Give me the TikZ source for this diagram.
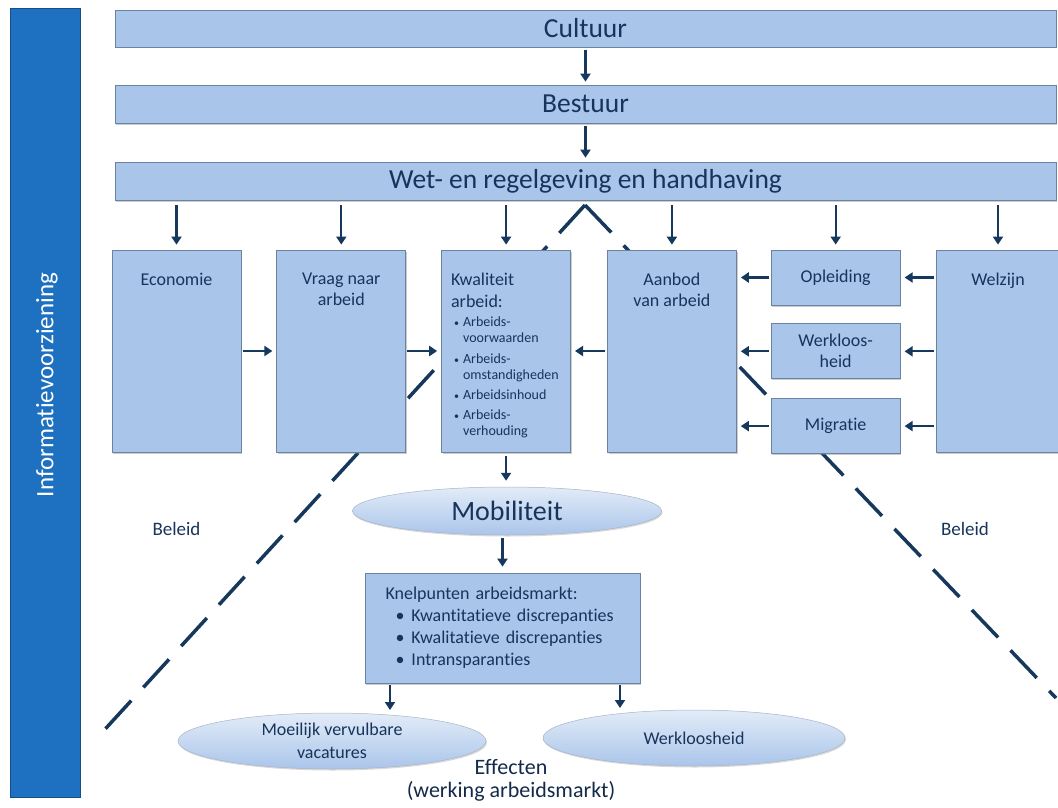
\documentclass[tikz,border=0pt]{standalone}
\usepackage{fontspec}
\setmainfont{Carlito}[Ligatures=NoCommon]
\usetikzlibrary{arrows.meta}
\usetikzlibrary{shapes.geometric,shadows}
\usetikzlibrary{positioning}

\definecolor{balkblauw}{RGB}{170,197,234}
\definecolor{randblauw}{RGB}{108,130,162}
\definecolor{infoblauw}{RGB}{30,113,192}
\definecolor{inkt}{RGB}{24,52,92}
\definecolor{pijlblauw}{RGB}{22,56,92}
\definecolor{wolklicht}{RGB}{226,236,248}

\newcommand{\stip}{\hspace*{3pt}\makebox[9pt][l]{\fontsize{10}{10}\selectfont\textbullet}}
\newcommand{\opsom}[2]{\stip#1\\\hspace*{12pt}#2}

\begin{document}
\begin{tikzpicture}[x=1pt,y=-1pt,
      balk/.style  = {draw=randblauw, fill=balkblauw, line width=0.8pt,
                      inner sep=0pt, text=inkt,
                      drop shadow={shadow xshift=1.2pt,shadow yshift=-1.5pt,opacity=0.4}},
      blok/.style  = {balk, minimum width=129pt, minimum height=202pt},
      kleinblok/.style = {balk, minimum width=129pt, minimum height=55pt,
                      align=center, font=\fontsize{18}{21}\selectfont},
      kop/.style   = {label={[anchor=north, yshift=-23pt, inner sep=0pt, align=center,
                      text=inkt, font=\fontsize{18}{21}\selectfont]north:#1}},
      wolk/.style  = {ellipse, draw=randblauw!60, line width=0.5pt, inner sep=0pt,
                      top color=wolklicht, bottom color=balkblauw, text=inkt,
                      drop shadow={shadow xshift=1pt,shadow yshift=-1.5pt,opacity=0.3}},
      pijl/.style  = {draw=pijlblauw, line width=2.2pt,
                      -{Triangle[length=8pt,width=10pt]}},
      grens/.style = {draw=pijlblauw, line width=3.5pt, dash pattern=on 38pt off 18pt}
   ]
   \useasboundingbox (0,0) rectangle (1058,808);

   % beleid / effecten grens
   \coordinate (top)  at (585,205);
   \coordinate (lo)   at (97,738);
   \coordinate (ro)   at (1056,698);
   \draw[grens] (top) -- (lo);
   \draw[grens] (top) -- (ro);

   % informatievoorziening
   \node[draw=infoblauw!70!black, fill=infoblauw, line width=0.8pt,
         minimum width=70pt, minimum height=789pt] (info) at (45,402.5) {};
   \node[rotate=90, text=white, font=\fontsize{25}{29}\selectfont]
         (infotekst) at (47,385) {Informatievoorziening};

   % bovenste lagen
   \node[balk, minimum width=941pt, minimum height=37pt,
         font=\fontsize{27.5}{31}\selectfont] (cult) at (585.5,28.5) {Cultuur};
   \node[balk, minimum width=941pt, minimum height=38pt,
         font=\fontsize{27.5}{31}\selectfont] (best) at (585.5,104) {Bestuur};
   \node[balk, minimum width=941pt, minimum height=38pt,
         font=\fontsize{27.5}{31}\selectfont] (wet)  at (585.5,181)
         {Wet- en regelgeving en handhaving};

   % blokken
   \node[blok, kop=Economie] (eco) at (176.5,351) {};
   \node[blok, kop={Vraag naar\\arbeid}, right=35pt of eco] (vraag) {};
   \node[blok, right=35pt of vraag, align=left, text width=110pt,
         font=\fontsize{14}{16}\selectfont] (kwal)
         {{\fontsize{18}{20}\selectfont\rule{0pt}{22pt}Kwaliteit}\\[6pt]
          {\fontsize{18}{20}\selectfont arbeid:}\\[3pt]
          \opsom{Arbeids-}{voorwaarden}\\[5pt]
          \opsom{Arbeids-}{omstandigheden}\\[4pt]
          \stip Arbeidsinhoud\\[4pt]
          \opsom{Arbeids-}{verhouding}};
   \node[blok, kop={Aanbod\\van arbeid}, right=36pt of kwal] (aanbod) {};
   \node[kleinblok, below right=0pt and 34pt of aanbod.north east] (opl) {Opleiding};
   \node[kleinblok, below=18pt of opl] (wkl) {Werkloos-\\heid};
   \node[kleinblok, below=19pt of wkl] (migr) {Migratie};
   \node[blok, minimum width=124pt, kop=Welzijn,
         below right=0pt and 35pt of opl.north east] (welz) {};

   % effecten
   \node[wolk, minimum width=309pt, minimum height=48pt,
         font=\fontsize{28}{32}\selectfont] (mob) at (507,511) {Mobiliteit};
   \node[balk, minimum width=275pt, minimum height=110pt, text width=234pt,
         align=left, font=\fontsize{18}{22}\selectfont] (knel) at (502.5,628)
         {Knelpunten arbeidsmarkt:\\
          \hspace*{10pt}\makebox[16pt][l]{\textbullet}Kwantitatieve discrepanties\\
          \hspace*{10pt}\makebox[16pt][l]{\textbullet}Kwalitatieve discrepanties\\
          \hspace*{10pt}\makebox[16pt][l]{\textbullet}Intransparanties};
   \node[wolk, minimum width=308pt, minimum height=56pt, align=center,
         font=\fontsize{18}{23}\selectfont] (vac) at (332,741)
         {Moeilijk vervulbare\\vacatures};
   \node[wolk, minimum width=302pt, minimum height=56pt,
         font=\fontsize{18}{23}\selectfont] (wl) at (694,738) {Werkloosheid};
   \coordinate (vacin) at (390,710);
   \coordinate (wlin)  at (620,708);

   % teksten
   \node[text=inkt, font=\fontsize{19}{23}\selectfont] (beleidl) at (176.5,529) {Beleid};
   \node[text=inkt, font=\fontsize{19}{23}\selectfont] (beleidr) at (965,529) {Beleid};
   \node[text=inkt!80!black, align=center, font=\fontsize{22}{23}\selectfont]
         (eff) at (511,780) {Effecten\\(werking arbeidsmarkt)};

   % pijlen
   \draw[pijl, shorten <=3pt, shorten >=3pt] (cult.south) -- (best.north);
   \draw[pijl, shorten <=3pt, shorten >=4pt] (best.south) -- (wet.north);
   \foreach \b in {eco,vraag,kwal,aanbod,opl,welz}
      \draw[pijl, shorten <=5pt, shorten >=5pt] (wet.south -| \b.north) -- (\b.north);
   \draw[pijl, shorten <=2pt, shorten >=4pt] (eco.east) -- (vraag.west);
   \draw[pijl, shorten <=1pt, shorten >=4pt] (vraag.east) -- (kwal.west);
   \draw[pijl, shorten <=2pt, shorten >=4pt] (aanbod.west) -- (kwal.east);
   \foreach \b in {opl,wkl,migr}
      \draw[pijl, shorten <=2pt, shorten >=4pt] (\b.west) -- (\b.west -| aanbod.east);
   \foreach \b in {opl,wkl,migr}
      \draw[pijl, shorten <=2pt, shorten >=4pt] (\b.east -| welz.west) -- (\b.east);
   \draw[pijl, shorten <=4pt, shorten >=6pt] (kwal.south) -- (kwal.south |- mob.north);
   \draw[pijl, shorten <=3pt, shorten >=6pt] (mob.south -| knel.north) -- (knel.north);
   \draw[pijl, shorten <=2pt] (knel.south -| vacin) -- (vacin);
   \draw[pijl, shorten <=2pt] (knel.south -| wlin) -- (wlin);
\end{tikzpicture}
\end{document}
